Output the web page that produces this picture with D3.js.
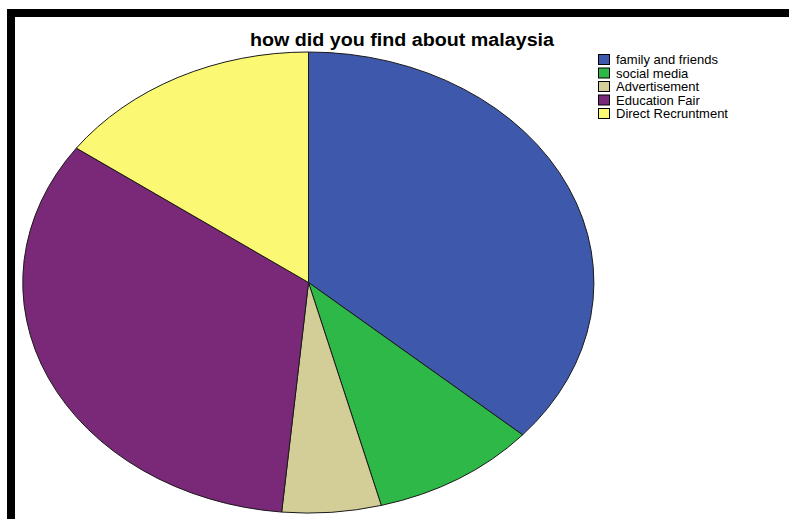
<!DOCTYPE html>
<html>
<head>
<meta charset="utf-8">
<script src="https://cdn.jsdelivr.net/npm/d3@7"></script>
<style>
  html, body { margin: 0; padding: 0; background: #fff; }
  svg { display: block; }
</style>
</head>
<body>
<svg id="chart" width="789" height="519"></svg>
<script>
const categories = ["family and friends", "social media", "Advertisement", "Education Fair", "Direct Recruntment"];
const values = [36.5, 9.4, 5.6, 33.4, 15.1];
const colors = ["#3E58AC", "#2EB848", "#D3CE97", "#7A2878", "#FBF873"];
const title = "how did you find about malaysia";

const svg = d3.select("#chart");
const W = 789, H = 519;

svg.append("rect").attr("width", W).attr("height", H).attr("fill", "#fff");

// frame (thick black top and left borders)
svg.append("rect").attr("x", 7).attr("y", 9).attr("width", W - 7).attr("height", 8).attr("fill", "#000");
svg.append("rect").attr("x", 7).attr("y", 9).attr("width", 8).attr("height", H - 9).attr("fill", "#000");

// title
svg.append("text")
  .attr("x", 402).attr("y", 46)
  .attr("text-anchor", "middle")
  .attr("font-family", "Liberation Sans, Arial, sans-serif")
  .attr("font-weight", "bold")
  .attr("font-size", 18)
  .attr("textLength", 304)
  .attr("lengthAdjust", "spacingAndGlyphs")
  .attr("fill", "#000")
  .text(title);

// elliptical pie
const cx = 308.5, cy = 282.5, rx = 285.5, ry = 230.5;
const pie = d3.pie().sort(null).value(d => d);
const arc = d3.arc().innerRadius(0).outerRadius(1);
const g = svg.append("g").attr("transform", `translate(${cx},${cy}) scale(${rx},${ry})`);
g.selectAll("path")
  .data(pie(values))
  .join("path")
  .attr("d", arc)
  .attr("fill", (d, i) => colors[i])
  .attr("stroke", "#1a1a1a")
  .attr("stroke-width", 1)
  .attr("vector-effect", "non-scaling-stroke")
  .attr("stroke-linejoin", "round");

// legend
const lg = svg.append("g").attr("transform", "translate(598,54)");
const rowH = 13.5;
const items = lg.selectAll("g").data(categories).join("g")
  .attr("transform", (d, i) => `translate(0,${i * rowH})`);
items.append("rect")
  .attr("x", 0.5).attr("y", 0.5).attr("width", 11).attr("height", 10)
  .attr("fill", (d, i) => colors[i])
  .attr("stroke", "#000").attr("stroke-width", 1);
items.append("text")
  .attr("x", 18).attr("y", 10)
  .attr("font-family", "Liberation Sans, Arial, sans-serif")
  .attr("font-size", 13)
  .attr("fill", "#000")
  .text(d => d);
</script>
</body>
</html>
